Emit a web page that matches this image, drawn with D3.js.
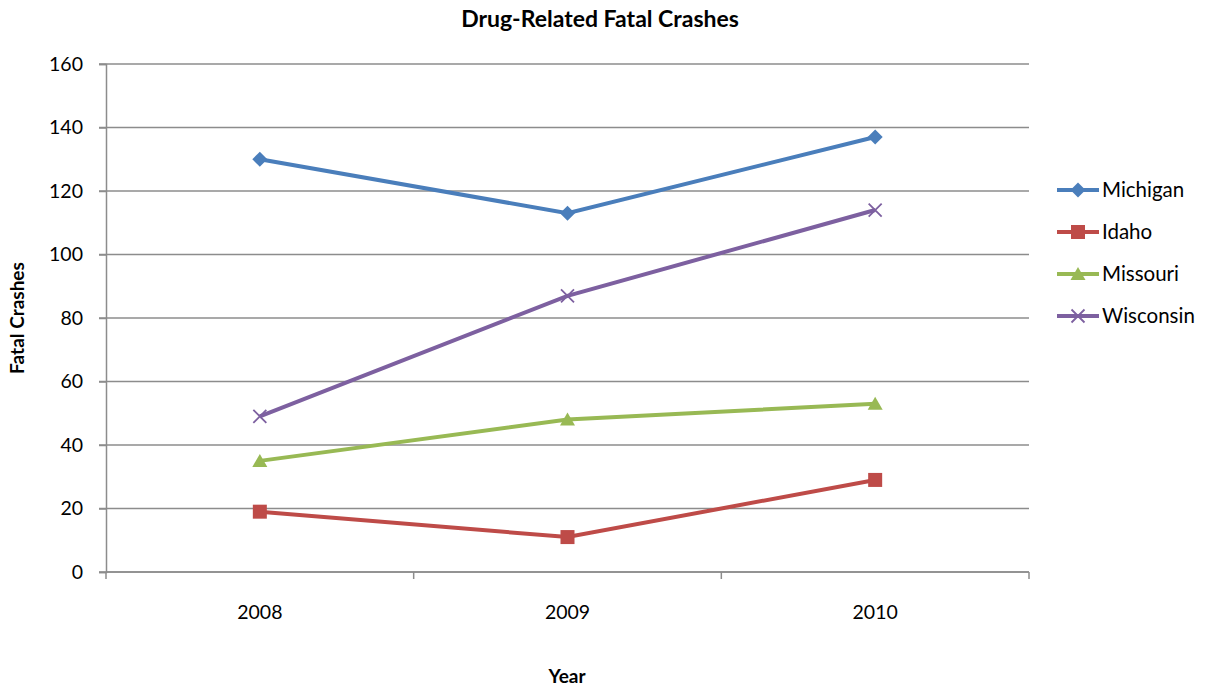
<!DOCTYPE html>
<html>
<head>
<meta charset="utf-8">
<script src="https://d3js.org/d3.v7.min.js"></script>
<style>
  body { margin: 0; background: #fff; }
  text { font-family: Lato, "Open Sans", sans-serif; fill: #000; }
</style>
</head>
<body>
<div id="chart"></div>
<script>
// Chart data
const years = ["2008", "2009", "2010"];
const stateNames = ["Michigan", "Idaho", "Missouri", "Wisconsin"];
const michigan = [130, 113, 137];
const idaho = [19, 11, 29];
const missouri = [35, 48, 53];
const wisconsin = [49, 87, 114];
const yTicks = [0, 20, 40, 60, 80, 100, 120, 140, 160];

const width = 1209;
const height = 688;
const plotLeft = 106, plotRight = 1029, plotTop = 64, plotBottom = 572;

const series = [
    { name: stateNames[0], values: michigan, color: "#4a7ebb", marker: "diamond" },
    { name: stateNames[1], values: idaho, color: "#be4b48", marker: "square" },
    { name: stateNames[2], values: missouri, color: "#98b954", marker: "triangle" },
    { name: stateNames[3], values: wisconsin, color: "#7d60a0", marker: "cross" }
];

const svg = d3.select("#chart").append("svg")
    .attr("width", width)
    .attr("height", height);

const x = d3.scaleBand().domain(years).range([plotLeft, plotRight]).padding(0);
const y = d3.scaleLinear().domain([0, 160]).range([plotBottom, plotTop]);

// Gridlines
svg.append("g")
    .selectAll("line")
    .data(yTicks)
    .enter()
    .append("line")
    .attr("x1", plotLeft - 7)
    .attr("x2", plotRight)
    .attr("y1", d => y(d))
    .attr("y2", d => y(d))
    .style("stroke", "#8c8c8c")
    .style("stroke-width", 1.5);

// Y axis
const yAxis = svg.append("g")
    .attr("transform", `translate(${plotLeft},0)`)
    .call(d3.axisLeft(y).tickValues(yTicks).tickSize(7).tickPadding(16));
yAxis.select(".domain").style("stroke", "#8c8c8c").style("stroke-width", 1.5);
yAxis.selectAll(".tick line").style("stroke", "#8c8c8c").style("stroke-width", 1.5);
yAxis.selectAll("text").style("font-size", "19.5px").style("font-family", "Lato, sans-serif");

// X axis: ticks at band edges
const xAxis = svg.append("g")
    .attr("transform", `translate(0,${plotBottom})`);
xAxis.append("line")
    .attr("x1", plotLeft).attr("x2", plotRight)
    .style("stroke", "#8c8c8c").style("stroke-width", 1.5);
const edges = years.map(d => x(d)).concat([x(years[years.length - 1]) + x.bandwidth()]);
xAxis.selectAll(".edge")
    .data(edges)
    .enter()
    .append("line")
    .attr("x1", d => d).attr("x2", d => d)
    .attr("y1", 0).attr("y2", 7)
    .style("stroke", "#8c8c8c").style("stroke-width", 1.5);
xAxis.selectAll(".lbl")
    .data(years)
    .enter()
    .append("text")
    .attr("x", d => x(d) + x.bandwidth() / 2)
    .attr("y", 47)
    .attr("text-anchor", "middle")
    .style("font-size", "19.5px")
    .text(d => d);

// Lines
const cx = (d, i) => x(years[i]) + x.bandwidth() / 2;
const line = d3.line().x(cx).y(d => y(d));

function drawMarker(g, type, color) {
    if (type === "diamond") {
        g.append("path").attr("d", "M0,-7.5L7.5,0L0,7.5L-7.5,0Z").style("fill", color);
    } else if (type === "square") {
        g.append("rect").attr("x", -7).attr("y", -7).attr("width", 14).attr("height", 14).style("fill", color);
    } else if (type === "triangle") {
        g.append("path").attr("d", "M0,-7L7.5,6L-7.5,6Z").style("fill", color);
    } else {
        g.append("path").attr("d", "M-6.5,-6.5L6.5,6.5M-6.5,6.5L6.5,-6.5")
            .style("stroke", color).style("stroke-width", 1.8).style("fill", "none");
    }
}

series.forEach(s => {
    svg.append("path")
        .datum(s.values)
        .attr("d", line)
        .style("fill", "none")
        .style("stroke", s.color)
        .style("stroke-width", 4);
    s.values.forEach((v, i) => {
        const g = svg.append("g").attr("transform", `translate(${cx(v, i)},${y(v)})`);
        drawMarker(g, s.marker, s.color);
    });
});

// Legend
const legend = svg.append("g").attr("transform", "translate(1057,190)");
series.forEach((s, i) => {
    const row = legend.append("g").attr("transform", `translate(0,${i * 42})`);
    row.append("line")
        .attr("x1", 0).attr("x2", 42)
        .style("stroke", s.color).style("stroke-width", 4);
    const m = row.append("g").attr("transform", "translate(21,0)");
    drawMarker(m, s.marker, s.color);
    row.append("text")
        .attr("x", 45)
        .attr("dy", "0.35em")
        .style("font-size", "20.5px")
        .text(s.name);
});

// Title
svg.append("text")
    .attr("x", 600)
    .attr("y", 27)
    .attr("text-anchor", "middle")
    .style("font-size", "23px")
    .style("font-weight", "bold")
    .text("Drug-Related Fatal Crashes");

// Axis titles
svg.append("text")
    .attr("x", 567)
    .attr("y", 683)
    .attr("text-anchor", "middle")
    .style("font-size", "19px")
    .style("font-weight", "bold")
    .text("Year");

svg.append("text")
    .attr("transform", "translate(24,318) rotate(-90)")
    .attr("text-anchor", "middle")
    .style("font-size", "19px")
    .style("font-weight", "bold")
    .text("Fatal Crashes");
</script>
</body>
</html>
